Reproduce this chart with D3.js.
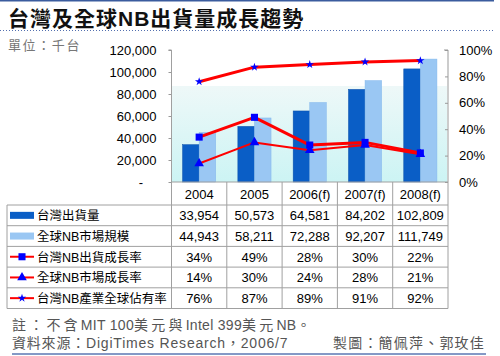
<!DOCTYPE html>
<html><head><meta charset="utf-8">
<script src="https://cdn.jsdelivr.net/npm/d3@7"></script>
<style>
body{margin:0;background:#fff;}
svg{display:block;font-family:Arial,"Liberation Sans","Noto Sans CJK TC",sans-serif;}
</style></head><body>
<svg id="c" width="500" height="356"></svg>
<script>
const years = ["2004","2005","2006(f)","2007(f)","2008(f)"];
const twShip = [33954, 50573, 64581, 84202, 102809];
const globalMkt = [44943, 58211, 72288, 92207, 111749];
const twGrowth = [34, 49, 28, 30, 22];
const globalGrowth = [14, 30, 24, 28, 21];
const twShare = [76, 87, 89, 91, 92];
const leftTicks = [0, 20000, 40000, 60000, 80000, 100000, 120000];
const rightTicks = [0, 20, 40, 60, 80, 100];
const seriesNames = ["台灣出貨量","全球NB市場規模","台灣NB出貨成長率","全球NB市場成長率","台灣NB產業全球佔有率"];
const noteParts = ["註：不含","MIT 100","美元與","Intel 399","美元","NB","。"];

const svg = d3.select("#c");
const mixed = 'Arial,"Liberation Sans","Noto Sans CJK TC","Noto Sans CJK SC",sans-serif';
const L = 171.5, R = 448, T = 50, B = 182;
const x = d3.scaleBand().domain(years).range([L, R]);
const yL = d3.scaleLinear().domain([0, 120000]).range([B, T]);
const yR = d3.scaleLinear().domain([0, 100]).range([B, T]);
const fmt = d3.format(",");

// top rule
svg.append("line").attr("x1",0).attr("x2",494).attr("y1",0.5).attr("y2",0.5).attr("stroke","#3b5c9e").attr("stroke-width",2);
svg.append("text").attr("x",8).attr("y",26).attr("font-family",mixed).attr("font-weight","bold")
  .attr("font-size",21).attr("letter-spacing",1).attr("fill","#111").text("台灣及全球NB出貨量成長趨勢");
svg.append("line").attr("x1",0).attr("x2",494).attr("y1",30.5).attr("y2",30.5).attr("stroke","#5470b0").attr("stroke-width",1).attr("stroke-dasharray","1,2");
svg.append("text").attr("x",8).attr("y",50).attr("font-family",mixed).attr("font-size",13).attr("letter-spacing",1.6).attr("fill","#777").text("單位：千台");

// plot background
const defs = svg.append("defs");
const g = defs.append("linearGradient").attr("id","bg").attr("x1",0).attr("x2",0).attr("y1",0).attr("y2",1);
g.append("stop").attr("offset","0%").attr("stop-color","#eef8f8");
g.append("stop").attr("offset","100%").attr("stop-color","#ccf4f4");
svg.append("rect").attr("x",L).attr("y",86).attr("width",R-L-1).attr("height",B-86).attr("fill","url(#bg)");

// bars
const bw = x.bandwidth()*0.3;
svg.append("g").selectAll("rect").data(twShip).join("rect")
  .attr("x",(d,i)=>x(years[i])+x.bandwidth()/2-bw).attr("y",d=>yL(d))
  .attr("width",bw).attr("height",d=>B-yL(d)).attr("fill","#0a5ec6").attr("stroke","#0a4fa8").attr("stroke-width",0.5);
svg.append("g").selectAll("rect").data(globalMkt).join("rect")
  .attr("x",(d,i)=>x(years[i])+x.bandwidth()/2).attr("y",d=>yL(d))
  .attr("width",bw).attr("height",d=>B-yL(d)).attr("fill","#9ac7f3").attr("stroke","#84b8ec").attr("stroke-width",0.5);

// axes
const axL = svg.append("g").attr("transform",`translate(${L},0)`)
  .call(d3.axisLeft(yL).tickValues(leftTicks).tickSize(3).tickFormat(d=>d===0?"":fmt(d)));
axL.select(".domain").attr("stroke","#999").attr("d",`M-3,${T}H0V${B}`);
axL.selectAll(".tick line").attr("stroke","#999");
axL.selectAll("text").attr("x",-15).attr("font-size",13).attr("fill","#000").attr("font-family","Arial,'Liberation Sans'");
svg.append("text").attr("x",141).attr("y",yL(0)+5).attr("text-anchor","middle").attr("font-size",13).text("-");

const axR = svg.append("g").attr("transform",`translate(${R},0)`)
  .call(d3.axisRight(yR).tickValues(rightTicks).tickSize(0).tickFormat(d=>d+"%"));
axR.select(".domain").attr("stroke","#999").attr("d",`M-4,${T}H0V${B}`);
axR.selectAll(".tick").append("line").attr("x1",-3).attr("x2",0).attr("stroke","#999");
axR.selectAll("text").attr("x",11).attr("font-size",13).attr("fill","#000").attr("font-family","Arial,'Liberation Sans'");

// lines
const cx = i => x(years[i]) + x.bandwidth()/2;
function drawLine(data, w) {
  svg.append("path").datum(data).attr("fill","none").attr("stroke","#ff0000").attr("stroke-width",w)
    .attr("stroke-linejoin","round")
    .attr("d", d3.line().x((d,i)=>cx(i)).y(d=>yR(d)));
}
const sq = d3.symbol().type(d3.symbolSquare).size(50);
const tri = d3.symbol().type(d3.symbolTriangle).size(40);
const dia = d3.symbol().type(d3.symbolStar).size(22);
drawLine(globalGrowth, 2);
drawLine(twGrowth, 3);
drawLine(twShare, 3);
function marks(data, sym) {
  svg.append("g").selectAll("path").data(data).join("path")
    .attr("transform",(d,i)=>`translate(${cx(i)},${yR(d)})`).attr("d",sym).attr("fill","#0000ff");
}
marks(globalGrowth, tri);
marks(twGrowth, sq);
marks(twShare, dia);

// table
const rowTop = 205, rh = 20.7, nRows = 5;
const tb = svg.append("g");
const gc = "#a0a0a0";
tb.append("line").attr("x1",L).attr("x2",R).attr("y1",B).attr("y2",B).attr("stroke",gc);
for (let r = 0; r <= nRows; r++) {
  const yy = rowTop + r*rh;
  tb.append("line").attr("x1",7).attr("x2",R).attr("y1",yy).attr("y2",yy).attr("stroke",gc);
}
tb.append("line").attr("x1",7).attr("x2",7).attr("y1",rowTop).attr("y2",rowTop+nRows*rh).attr("stroke",gc);
years.forEach(yv=>tb.append("line").attr("x1",x(yv)).attr("x2",x(yv)).attr("y1",yv===years[0]?T:B).attr("y2",rowTop+nRows*rh).attr("stroke",gc));
tb.append("line").attr("x1",R).attr("x2",R).attr("y1",B).attr("y2",rowTop+nRows*rh).attr("stroke",gc);
// header
tb.selectAll("text.h").data(years).join("text").attr("class","h")
  .attr("x",d=>x(d)+x.bandwidth()/2).attr("y",(B+rowTop)/2+5).attr("text-anchor","middle").attr("font-size",13).text(d=>d);
const rows = [twShip.map(fmt), globalMkt.map(fmt), twGrowth.map(d=>d+"%"), globalGrowth.map(d=>d+"%"), twShare.map(d=>d+"%")];
rows.forEach((vals,r)=>{
  const yc = rowTop + r*rh + rh/2;
  vals.forEach((v,i)=>tb.append("text").attr("x",cx(i)).attr("y",yc+5).attr("text-anchor","middle").attr("font-size",13).text(v));
  tb.append("text").attr("x",37).attr("y",yc+5).attr("font-family",mixed).attr("font-size",12.5).text(seriesNames[r]);
  if (r===0) tb.append("rect").attr("x",10).attr("y",yc-3.5).attr("width",24).attr("height",7).attr("fill","#0a5ec6");
  else if (r===1) tb.append("rect").attr("x",10).attr("y",yc-3.5).attr("width",24).attr("height",7).attr("fill","#9ac7f3");
  else {
    tb.append("line").attr("x1",10).attr("x2",34).attr("y1",yc).attr("y2",yc).attr("stroke","#ff0000").attr("stroke-width",2);
    tb.append("path").attr("transform",`translate(22,${yc})`).attr("d",[sq,tri,dia][r-2]).attr("fill","#0000ff");
  }
});

// footer
const note = svg.append("text").attr("x",12).attr("y",330).attr("font-family",mixed).attr("font-size",14).attr("fill","#555");
noteParts.forEach(p=>note.append("tspan").attr("letter-spacing",/[A-Za-z0-9]/.test(p)?0.3:3.2).text(p));
svg.append("text").attr("x",12).attr("y",348).attr("font-family",mixed).attr("font-size",14).attr("letter-spacing",0.8).attr("fill","#555").text("資料來源：DigiTimes Research，2006/7");
svg.append("text").attr("x",485).attr("y",348).attr("text-anchor","end").attr("font-family",mixed).attr("font-size",14).attr("letter-spacing",1.2).attr("fill","#555").text("製圖：簡佩萍、郭玫佳");
svg.append("line").attr("x1",12).attr("x2",486).attr("y1",354).attr("y2",354).attr("stroke","#5b77b3").attr("stroke-width",1.5);
</script></body></html>
